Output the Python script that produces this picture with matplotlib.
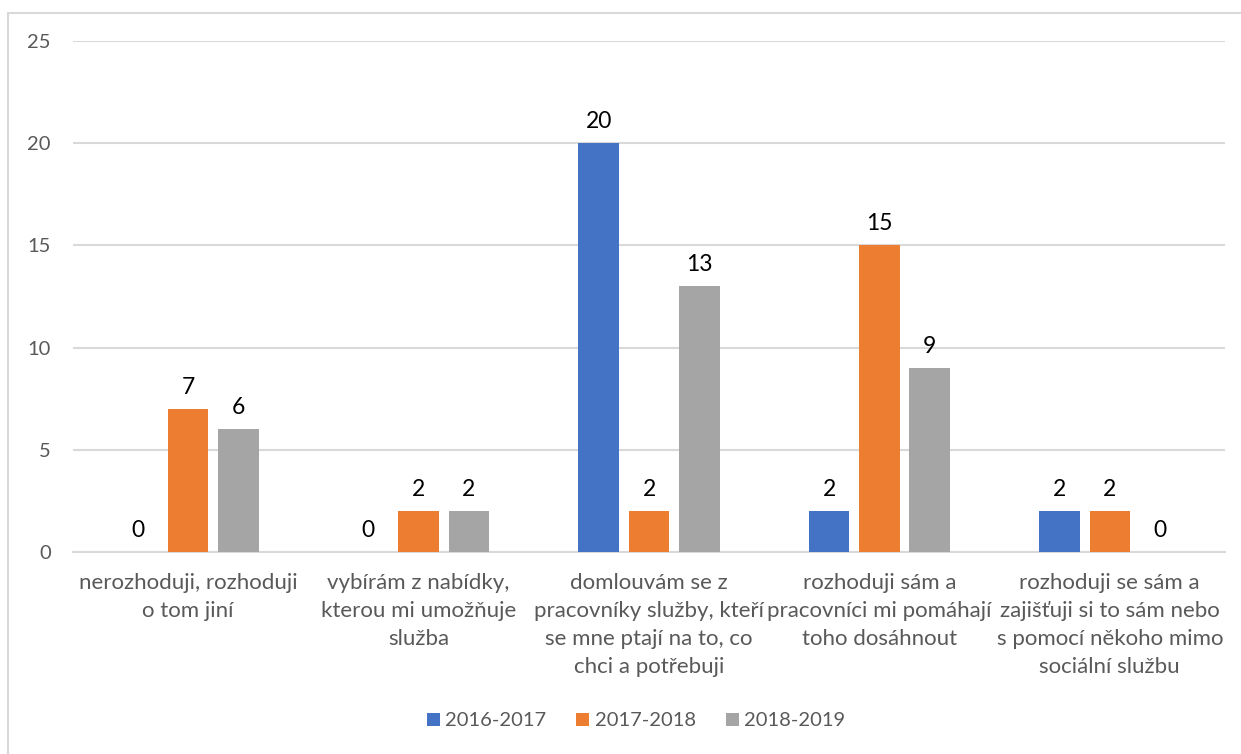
import matplotlib.pyplot as plt
import numpy as np
from matplotlib.patches import Rectangle

plt.rcParams["font.family"] = ["Lato", "DejaVu Sans"]

categories = [
    "nerozhoduji, rozhoduji\no tom jiní",
    "vybírám z nabídky,\nkterou mi umožňuje\nslužba",
    "domlouvám se z\npracovníky služby, kteří\nse mne ptají na to, co\nchci a potřebuji",
    "rozhoduji sám a\npracovníci mi pomáhají\ntoho dosáhnout",
    "rozhoduji se sám a\nzajišťuji si to sám nebo\ns pomocí někoho mimo\nsociální službu",
]
series = ["2016-2017", "2017-2018", "2018-2019"]
v_2016 = [0, 0, 20, 2, 2]
v_2017 = [7, 2, 2, 15, 2]
v_2018 = [6, 2, 13, 9, 0]
colors = ["#4472C4", "#ED7D31", "#A5A5A5"]

fig = plt.figure(figsize=(12.41, 7.54), dpi=100)
W, H = 1241, 754
ax = fig.add_axes([73 / W, 1 - 552 / H, (1225 - 73) / W, (552 - 41) / H])

# chart frame (only left/top edges fall inside the image)
fig.patches.append(Rectangle((8 / W, -0.1), 1.2, 1 - 13 / H + 0.1,
                             transform=fig.transFigure, fill=False,
                             edgecolor="#D9D9D9", linewidth=1.5))

x = np.arange(len(categories))
bw = 0.176
step = 0.218
for i, (vals, name, col) in enumerate(zip([v_2016, v_2017, v_2018], series, colors)):
    pos = x + (i - 1) * step
    ax.bar(pos, vals, width=bw, color=col, label=name, zorder=3)
    for p, v in zip(pos, vals):
        ax.text(p, v + 0.55, str(v), ha="center", va="bottom",
                fontsize=16.5, color="black")

ax.set_xlim(-0.5, len(categories) - 0.5)
ax.set_ylim(0, 25)
ax.set_yticks(range(0, 26, 5))
ax.yaxis.grid(True, color="#D9D9D9", linewidth=1.5, zorder=0)
ax.tick_params(axis="y", length=0, pad=16, labelsize=14.5, labelcolor="#595959")
ax.tick_params(axis="x", length=0, pad=15, labelsize=16, labelcolor="#595959")
ax.set_xticks(x)
ax.set_xticklabels(categories, linespacing=1.5)
for s in ["top", "right", "left"]:
    ax.spines[s].set_visible(False)
ax.spines["bottom"].set_color("#D9D9D9")
ax.spines["bottom"].set_linewidth(1.5)

leg = fig.legend(loc="center", bbox_to_anchor=(636 / W, 1 - 721 / H), ncol=3,
                 frameon=False, fontsize=14.5, handlelength=0.65, handleheight=0.65,
                 handletextpad=0.25, columnspacing=1.5)
for t in leg.get_texts():
    t.set_color("#595959")

fig.savefig("out.png", dpi=100)
